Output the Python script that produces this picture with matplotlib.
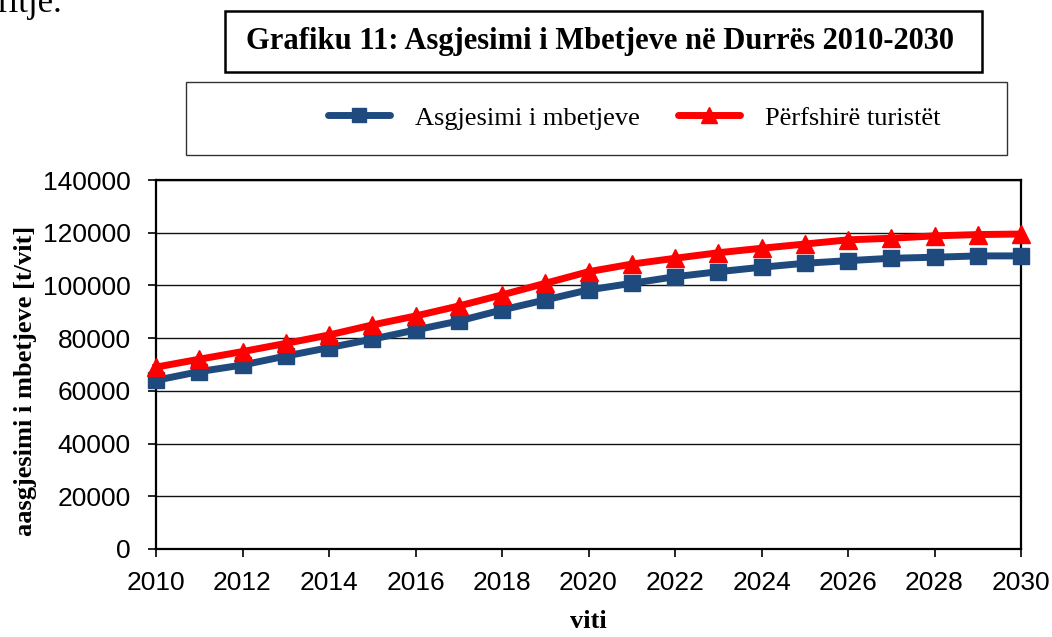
import matplotlib
matplotlib.use("Agg")
import matplotlib.pyplot as plt
from matplotlib.patches import Rectangle
from matplotlib.lines import Line2D

years = list(range(2010, 2031))
asgjesimi = [64000, 67300, 69800, 73200, 76400, 79600, 83100, 86500, 90700, 94500, 98300,
             100800, 103300, 105200, 106900, 108400, 109400, 110300, 110700, 111200, 111200]
turistet = [69000, 72000, 74900, 78000, 81200, 85000, 88400, 92200, 96400, 100800, 105200,
            108100, 110300, 112400, 114100, 115700, 117300, 117900, 118800, 119300, 119500]
series_labels = ["Asgjesimi i mbetjeve", "Përfshirë turistët"]
x_ticks = list(range(2010, 2031, 2))
y_ticks = list(range(0, 140001, 20000))

W, H = 1052, 637
fig = plt.figure(figsize=(W / 100, H / 100), dpi=100)

def fx(px):
    return px / W

def fy(py):
    return 1 - py / H

ax = fig.add_axes([fx(156), fy(549), fx(1021) - fx(156), fy(180) - fy(549)])

blue = "#1F4A7E"
red = "#FF0000"
ax.plot(years, asgjesimi, color=blue, lw=5, marker="s", ms=11,
        solid_joinstyle="round", clip_on=False, zorder=3, label=series_labels[0])
ax.plot(years, turistet, color=red, lw=5, marker="^", ms=13,
        solid_joinstyle="round", clip_on=False, zorder=4, label=series_labels[1])

ax.set_xlim(2010, 2030)
ax.set_ylim(0, 140000)
ax.set_xticks(x_ticks)
ax.set_yticks(y_ticks)
ax.grid(axis="y", color="#111111", lw=1.0)
ax.set_axisbelow(True)
for s in ax.spines.values():
    s.set_color("black")
    s.set_linewidth(1.6)
ax.tick_params(axis="both", direction="out", length=6, width=1.2, colors="black",
               labelsize=19)
ax.tick_params(axis="y", pad=12)
ax.tick_params(axis="x", pad=10)
for lab in ax.get_xticklabels() + ax.get_yticklabels():
    lab.set_fontfamily("Liberation Sans")

fig.text(fx(26), fy(381), "aasgjesimi i mbetjeve [t/vit]", rotation=90,
         ha="center", va="center", family="Liberation Serif", weight="bold", fontsize=19)
fig.text(fx(588), fy(622), "viti", ha="center", va="center",
         family="Liberation Serif", weight="bold", fontsize=19)

# partial text from the page above
fig.text(fx(-3), fy(12), "ritje.", ha="left", va="baseline",
         family="Liberation Serif", fontsize=25)

# title box
fig.patches.append(Rectangle((fx(225), fy(72)), fx(982) - fx(225), fy(11) - fy(72),
                             transform=fig.transFigure, fill=False, ec="black", lw=1.8))
fig.text(fx(600), fy(41), "Grafiku 11: Asgjesimi i Mbetjeve në Durrës 2010-2030",
         ha="center", va="center", family="Liberation Serif", weight="bold", fontsize=22)

# legend box
fig.patches.append(Rectangle((fx(186), fy(155)), fx(1007) - fx(186), fy(82) - fy(155),
                             transform=fig.transFigure, fill=False, ec="#333333", lw=1.0))
h1 = Line2D([], [], color=blue, lw=5, marker="s", ms=10, solid_capstyle="round")
h2 = Line2D([], [], color=red, lw=5, marker="^", ms=11, solid_capstyle="round")
fig.legend([h1, h2], series_labels, loc="center left",
           bbox_to_anchor=(fx(328), fy(118)), ncol=2, frameon=False,
           prop={"family": "Liberation Serif", "size": 19},
           handlelength=2.35, handletextpad=0.95, columnspacing=1.45,
           borderpad=0, borderaxespad=0)

fig.savefig("out.png", dpi=100)
